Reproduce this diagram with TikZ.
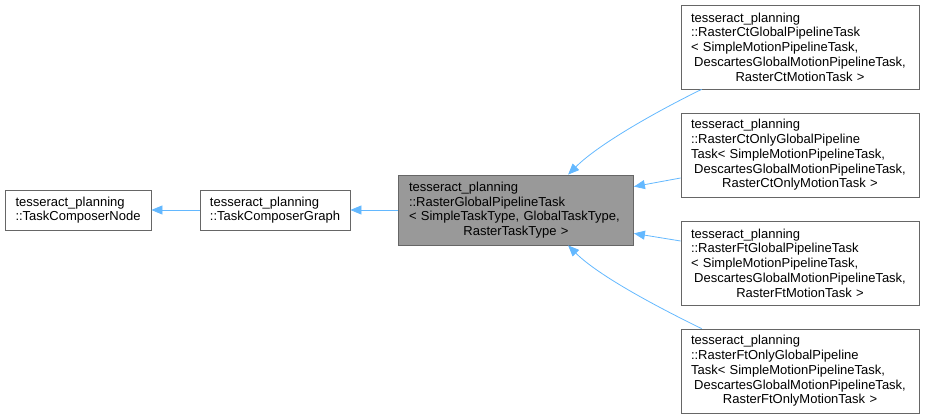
\documentclass[tikz,border=0pt]{standalone}
\usepackage{fontspec}
\setmainfont{Liberation Sans}
\usetikzlibrary{arrows.meta}
\definecolor{edgeblue}{HTML}{63B8FF}
\definecolor{boxline}{HTML}{666666}
\definecolor{boxfill}{HTML}{999999}
\newcommand{\ctrline}[1]{\makebox[\hsize][c]{#1}}
\begin{document}
\begin{tikzpicture}[x=1pt, y=-1pt,
  box/.style={draw=boxline, line width=0.8pt, inner sep=0pt, align=left,
    font=\fontsize{13}{14.7}\selectfont},
  edge/.style={draw=edgeblue, line width=0.8pt, -{Triangle[length=11pt,width=9pt]}}]

\useasboundingbox (0,0) rectangle (925,419);

\node[box, minimum width=146pt, minimum height=40pt] (node) at (78,210) {tesseract\_planning\\::TaskComposerNode};

\node[box, minimum width=150pt, minimum height=40pt] (graph) at (275,210) {tesseract\_planning\\::TaskComposerGraph};

\node[box, fill=boxfill, minimum width=235pt, minimum height=70pt, text width=214pt] (raster) at (516,210) {tesseract\_planning\\::RasterGlobalPipelineTask\\\textless{} SimpleTaskType, GlobalTaskType,\\\ctrline{RasterTaskType \textgreater}};

\node[box, minimum width=238pt, minimum height=84pt, text width=218pt] (rasterct) at (800,47) {tesseract\_planning\\::RasterCtGlobalPipelineTask\\\textless{} SimpleMotionPipelineTask,\\\ctrline{DescartesGlobalMotionPipelineTask,}\\\ctrline{RasterCtMotionTask \textgreater}};

\node[box, minimum width=238pt, minimum height=84pt, text width=218pt] (rasterctonly) at (800,155) {tesseract\_planning\\::RasterCtOnlyGlobalPipeline\\Task\textless{} SimpleMotionPipelineTask,\\\ctrline{DescartesGlobalMotionPipelineTask,}\\\ctrline{RasterCtOnlyMotionTask \textgreater}};

\node[box, minimum width=238pt, minimum height=84pt, text width=218pt] (rasterft) at (800,263) {tesseract\_planning\\::RasterFtGlobalPipelineTask\\\textless{} SimpleMotionPipelineTask,\\\ctrline{DescartesGlobalMotionPipelineTask,}\\\ctrline{RasterFtMotionTask \textgreater}};

\node[box, minimum width=238pt, minimum height=84pt, text width=218pt] (rasterftonly) at (800,371) {tesseract\_planning\\::RasterFtOnlyGlobalPipeline\\Task\textless{} SimpleMotionPipelineTask,\\\ctrline{DescartesGlobalMotionPipelineTask,}\\\ctrline{RasterFtOnlyMotionTask \textgreater}};

\draw[edge] (graph) -- (node);
\draw[edge] (raster) -- (graph);
\draw[edge] ([xshift=21pt]rasterct.south west) to[out=206,in=45,looseness=0.72] ([xshift=170pt]raster.north west);
\draw[edge] ([yshift=-23pt]rasterctonly.west) -- ([yshift=-12pt]raster.north east);
\draw[edge] ([yshift=22pt]rasterft.west) -- ([yshift=12pt]raster.south east);
\draw[edge] ([xshift=21pt]rasterftonly.north west) to[out=154,in=-45,looseness=0.72] ([xshift=170pt]raster.south west);

\end{tikzpicture}
\end{document}
